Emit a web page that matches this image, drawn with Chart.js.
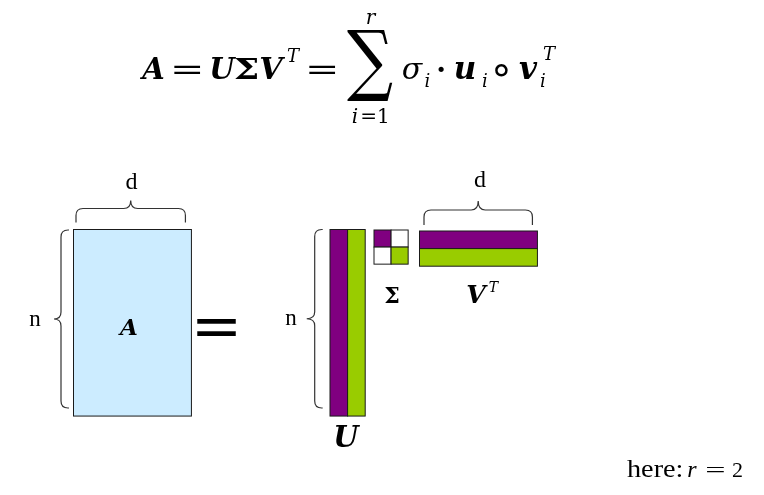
<!DOCTYPE html>
<html>
<head>
<meta charset="utf-8">
<script src="https://cdn.jsdelivr.net/npm/chart.js@4.4.1/dist/chart.umd.min.js"></script>
<style>
  html, body { margin: 0; padding: 0; background: #fff; }
  #wrap { width: 764px; height: 495px; }
</style>
</head>
<body>
<div id="wrap"><canvas id="svdChart"></canvas></div>
<script>
// SVD diagram: A (n x d) = U (n x r) . Sigma (r x r) . V^T (r x d)
const matrixNames = ['A', 'U', 'Σ', 'V'];
const nRows = 10.6;      // n, in cells
const dCols = 6.7;       // d, in cells
const rank = 2;          // r
const componentColors = ['#800080', '#99CC00'];  // component 1, component 2
const sigmaPattern = [[1, 0], [0, 1]];           // diagonal entries filled

// layout (pixels on the hidden linear scales)
const CELL = 17.6;
const SERIF = '"Liberation Serif", "Times New Roman", serif';
const MATH = '"DejaVu Serif", serif';
const origin = {
  A: { x: 73.5, y: 229.5 },
  U: { x: 330, y: 229.5 },
  S: { x: 374, y: 230 },
  V: { x: 419.5, y: 231 }
};

function drawDiagram(chart) {
  const ctx = chart.ctx;
  const xs = chart.scales.x, ys = chart.scales.y;
  const X = v => xs.getPixelForValue(v);
  const Y = v => ys.getPixelForValue(v);

  function cell(x0, y0, w, h, fill) {
    const px = X(x0), py = Y(y0);
    const pw = X(x0 + w) - px, ph = Y(y0 + h) - py;
    ctx.fillStyle = fill;
    ctx.fillRect(px, py, pw, ph);
    ctx.strokeStyle = '#1a1a1a';
    ctx.lineWidth = 1;
    ctx.strokeRect(px, py, pw, ph);
  }

  function txt(s, x, y, font, align) {
    ctx.font = font;
    ctx.textAlign = align || 'center';
    ctx.textBaseline = 'alphabetic';
    ctx.fillStyle = '#000';
    ctx.fillText(s, X(x), Y(y));
  }

  // stretch a glyph so its ink box fills (x0,y0)-(x1,y1)
  function fitText(s, font, x0, y0, x1, y1) {
    ctx.save();
    ctx.font = font;
    ctx.textAlign = 'left';
    ctx.textBaseline = 'alphabetic';
    ctx.fillStyle = '#000';
    const m = ctx.measureText(s);
    const w = m.actualBoundingBoxLeft + m.actualBoundingBoxRight;
    const h = m.actualBoundingBoxAscent + m.actualBoundingBoxDescent;
    const sx = (X(x1) - X(x0)) / w, sy = (Y(y1) - Y(y0)) / h;
    ctx.translate(X(x0) + m.actualBoundingBoxLeft * sx, Y(y0) + m.actualBoundingBoxAscent * sy);
    ctx.scale(sx, sy);
    ctx.fillText(s, 0, 0);
    ctx.restore();
  }

  // widen a glyph to span x0..x1, keeping its natural height, centred on yc
  function fitWidth(s, font, x0, x1, yc) {
    ctx.save();
    ctx.font = font;
    ctx.textAlign = 'left';
    ctx.textBaseline = 'alphabetic';
    ctx.fillStyle = '#000';
    const m = ctx.measureText(s);
    const w = m.actualBoundingBoxLeft + m.actualBoundingBoxRight;
    const sx = (X(x1) - X(x0)) / w;
    const mid = (m.actualBoundingBoxAscent - m.actualBoundingBoxDescent) / 2;
    ctx.translate(X(x0) + m.actualBoundingBoxLeft * sx, Y(yc) + mid);
    ctx.scale(sx, 1);
    ctx.fillText(s, 0, 0);
    ctx.restore();
  }

  // horizontal brace, tip up
  function hBrace(x0, x1, yEnd, yLine, yTip) {
    const a = X(x0), b = X(x1), m = (a + b) / 2, r = 7;
    const e = Y(yEnd), l = Y(yLine), t = Y(yTip);
    ctx.beginPath();
    ctx.moveTo(a, e);
    ctx.lineTo(a, l + r);
    ctx.quadraticCurveTo(a, l, a + r, l);
    ctx.lineTo(m - r, l);
    ctx.quadraticCurveTo(m, l, m, t);
    ctx.quadraticCurveTo(m, l, m + r, l);
    ctx.lineTo(b - r, l);
    ctx.quadraticCurveTo(b, l, b, l + r);
    ctx.lineTo(b, e);
    ctx.strokeStyle = '#333';
    ctx.lineWidth = 1.2;
    ctx.stroke();
  }

  // vertical brace, tip left
  function vBrace(y0, y1, xEnd, xLine, xTip) {
    const a = Y(y0), b = Y(y1), m = (a + b) / 2, r = 7;
    const e = X(xEnd), l = X(xLine), t = X(xTip);
    ctx.beginPath();
    ctx.moveTo(e, a);
    ctx.lineTo(l + r, a);
    ctx.quadraticCurveTo(l, a, l, a + r);
    ctx.lineTo(l, m - r);
    ctx.quadraticCurveTo(l, m, t, m);
    ctx.quadraticCurveTo(l, m, l, m + r);
    ctx.lineTo(l, b - r);
    ctx.quadraticCurveTo(l, b, l + r, b);
    ctx.lineTo(e, b);
    ctx.strokeStyle = '#333';
    ctx.lineWidth = 1.2;
    ctx.stroke();
  }

  ctx.save();

  // A
  cell(origin.A.x, origin.A.y, dCols * CELL, nRows * CELL, '#CCECFF');
  // U columns
  for (let k = 0; k < rank; k++) {
    cell(origin.U.x + k * CELL, origin.U.y, CELL, nRows * CELL, componentColors[k]);
  }
  // Sigma
  const sc = CELL * 0.97;
  for (let i = 0; i < rank; i++) {
    for (let j = 0; j < rank; j++) {
      cell(origin.S.x + j * sc, origin.S.y + i * sc, sc, sc,
        sigmaPattern[i][j] ? componentColors[i] : '#ffffff');
    }
  }
  // V^T rows
  for (let k = 0; k < rank; k++) {
    cell(origin.V.x, origin.V.y + k * CELL, dCols * CELL, CELL, componentColors[k]);
  }

  // braces
  hBrace(origin.A.x + 2.5, origin.A.x + dCols * CELL - 6, origin.A.y - 7, origin.A.y - 21, origin.A.y - 29);
  hBrace(origin.V.x + 4.5, origin.V.x + dCols * CELL - 5, origin.V.y - 6, origin.V.y - 21, origin.V.y - 30);
  vBrace(origin.A.y + 0.5, origin.A.y + 178.5, origin.A.x - 4.5, origin.A.x - 12.5, origin.A.x - 19.5);
  vBrace(origin.U.y, origin.U.y + 178.5, origin.U.x - 7.3, origin.U.x - 15.3, origin.U.x - 23.3);

  // dimension labels
  txt('d', 131.5, 189, '24px ' + SERIF);
  txt('d', 480, 187, '24px ' + SERIF);
  txt('n', 35, 326, '23px ' + SERIF);
  txt('n', 291, 325, '23px ' + SERIF);

  // matrix labels
  txt(matrixNames[0], 129, 335, 'bold italic 23px ' + MATH);
  fitText('=', '40px ' + MATH, 197, 319, 237, 336);
  txt(matrixNames[1], 346, 446.5, 'bold italic 29px ' + MATH);
  txt(matrixNames[2], 392, 303, 'bold 22px ' + MATH);
  txt(matrixNames[3], 476, 303, 'bold italic 25px ' + MATH);
  txt('T', 493.5, 292, 'italic 14px ' + MATH);

  // formula
  const B = 79;
  const bi = 'bold italic 29px ' + MATH;
  txt('A', 153.5, B, bi);
  fitWidth('=', '30px ' + MATH, 174, 200, 69);
  txt('U', 222, B, bi);
  fitText('Σ', 'bold 28px ' + MATH, 235, 58, 257, 79);
  txt('V', 271, B, 'bold italic 30px ' + MATH);
  txt('T', 293, 62, 'italic 18px ' + MATH);
  fitWidth('=', '30px ' + MATH, 309, 335, 69);
  fitText('∑', '80px ' + MATH, 347, 30, 393, 102);
  txt('r', 370.5, 24, 'italic 20px ' + MATH);
  txt('i', 355, 123, 'italic 20px ' + MATH);
  txt('=1', 375, 123, '20px ' + MATH);
  txt('σ', 412, B, 'italic 30px ' + MATH);
  txt('i', 427.5, 87, 'italic 18px ' + MATH);
  txt('·', 441, B, 'bold 28px ' + MATH);
  txt('u', 465, B, 'bold italic 31px ' + MATH);
  txt('i', 485, 87, 'italic 18px ' + MATH);
  fitText('∘', '26px "DejaVu Sans", sans-serif', 495, 63, 509, 77);
  txt('v', 528, B, 'bold italic 31px ' + MATH);
  txt('T', 549, 60, 'italic 18px ' + MATH);
  txt('i', 543, 87, 'italic 18px ' + MATH);

  // note
  fitText('here:', '22px ' + SERIF, 627, 461.5, 682, 477);
  txt('r', 692, 477, 'italic 24px ' + SERIF);
  fitWidth('=', '22px ' + SERIF, 707, 725, 469.5);
  txt(String(rank), 737.5, 477, '22px ' + SERIF);

  ctx.restore();
}

new Chart(document.getElementById('svdChart'), {
  type: 'scatter',
  data: { datasets: [{ data: [], pointRadius: 0 }] },
  options: {
    responsive: true,
    maintainAspectRatio: false,
    animation: false,
    events: [],
    layout: { padding: 0 },
    plugins: { legend: { display: false }, tooltip: { enabled: false } },
    scales: {
      x: { type: 'linear', min: 0, max: 764, display: false },
      y: { type: 'linear', min: 0, max: 495, reverse: true, display: false }
    }
  },
  plugins: [{ id: 'svdDiagram', afterDraw: drawDiagram }]
});
</script>
</body>
</html>
